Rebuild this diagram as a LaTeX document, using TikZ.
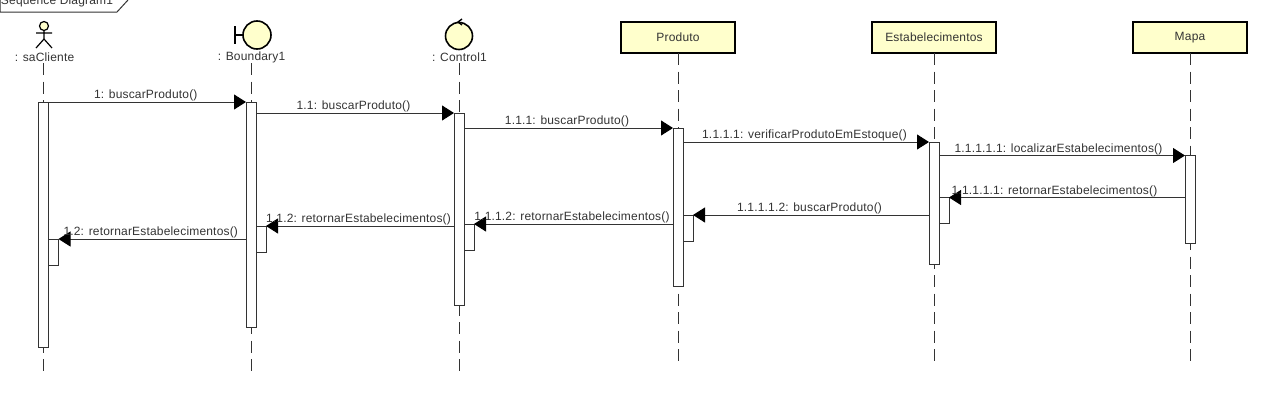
\documentclass[tikz,border=0pt]{standalone}
\usepackage{fontspec}
\setmainfont{Liberation Sans}[LetterSpace=1.5]
\usetikzlibrary{arrows.meta}
\definecolor{umlyellow}{HTML}{FFFFCC}
\definecolor{umlline}{HTML}{333333}

\begin{document}
\begin{tikzpicture}[%
x=1pt,y=-1pt,
>={Triangle[length=12pt,width=15pt,color=black]},
font=\fontsize{12}{14}\selectfont,
text=umlline,
every node/.style={inner sep=0pt,outer sep=0pt},
head/.style={rectangle,draw=black,line width=1.7pt,fill=umlyellow,minimum height=31,anchor=north},
icon/.style={circle,draw=black,line width=1.6pt,fill=umlyellow},
iconlab/.style={anchor=center},
life/.style={draw=umlline,line width=1pt,dash pattern=on 12pt off 6.5pt},
bar/.style={rectangle,draw=umlline,line width=1pt,fill=white,minimum width=10,anchor=north},
ret/.style={rectangle,draw=umlline,line width=1pt,minimum width=10,minimum height=26,anchor=north west},
msg/.style={draw=umlline,line width=1pt},
call/.style={msg,->},
lab/.style={above=1pt,xshift=-1.5pt,text height=9pt,text depth=2.5pt},
]
\useasboundingbox (0,0) rectangle (1280,413);

% frame tag
\node[anchor=west] (frametag) at (1,1.5) {Sequence Diagram1};
\draw[umlline,line width=1pt] (0,0) -- (0,12) -- (117,12) -- (128,0);

% actor
\node[icon,line width=1.2pt,minimum size=9] (actorhead) at (44,26) {};
\node[iconlab] (saCliente) at (44.5,57) {: saCliente};
\draw[black,line width=1.2pt] (actorhead.south) -- (44,39) -- (36,48) (44,39) -- (52,48) (36,33) -- (52,33);

% boundary
\node[icon,minimum size=28] (boundaryicon) at (257,35) {};
\node[iconlab] (Boundary) at (251.5,57) {: Boundary1};
\draw[black,line width=1.6pt] (235,26) -- (235,44) (235,35) -- (boundaryicon.west);

% control
\node[icon,minimum size=27] (controlicon) at (459,36) {};
\node[iconlab] (Control) at (459.5,57) {: Control1};
\draw[black,line width=1.4pt] (462,19) -- (458,22) -- (462,25);

% classes
\node[head,minimum width=114] (Produto) at (678,22) {Produto};
\node[head,minimum width=124] (Estabelecimentos) at (934,22) {Estabelecimentos};
\node[head,minimum width=114] (Mapa) at (1190,22) {Mapa};

% lifeline ends
\coordinate (endA) at (43.5,372);
\coordinate (endB) at (251,372);
\coordinate (endC) at (459,372);
\coordinate (endD) at (678,362);
\coordinate (endE) at (934,362);
\coordinate (endF) at (1190,362);

\draw[life] (43.5,63) -- (endA);
\draw[life] (251,63) -- (endB);
\draw[life] (459,63) -- (endC);
\draw[life] (Produto.south) -- (endD);
\draw[life] (Estabelecimentos.south) -- (endE);
\draw[life] (Mapa.south) -- (endF);

% activations
\node[bar,minimum height=245] (barA) at (43.5,102) {};
\node[bar,minimum height=225] (barB) at (251,102) {};
\node[bar,minimum height=192] (barC) at (459,113) {};
\node[bar,minimum height=158] (barD) at (678,128) {};
\node[bar,minimum height=122] (barE) at (934,142) {};
\node[bar,minimum height=88] (barF) at (1190,155.5) {};

% return boxes
\node[ret] (retA) at (barA.east |- 0,239) {};
\node[ret] (retB) at (barB.east |- 0,226) {};
\node[ret] (retC) at (barC.east |- 0,224) {};
\node[ret] (retD) at (barD.east |- 0,215) {};
\node[ret] (retE) at (barE.east |- 0,197.5) {};

% calls
\draw[call] (barA.north east) -- node[lab] (m1) {1: buscarProduto()} (barB.north west);
\draw[call] (barB.east |- barC.north) -- node[lab] (m2) {1.1: buscarProduto()} (barC.north west);
\draw[call] (barC.east |- barD.north) -- node[lab] (m3) {1.1.1: buscarProduto()} (barD.north west);
\draw[call] (barD.east |- barE.north) -- node[lab] (m4) {1.1.1.1: verificarProdutoEmEstoque()} (barE.north west);
\draw[call] (barE.east |- barF.north) -- node[lab,xshift=-2pt] (m5) {1.1.1.1.1: localizarEstabelecimentos()} (barF.north west);

% returns
\draw[call] (barF.west |- retE.north) -- node[lab,xshift=-11pt] (r1) {1.1.1.1.1: retornarEstabelecimentos()} (retE.north east);
\draw[call] (barE.west |- retD.north) -- node[lab] (r2) {1.1.1.1.2: buscarProduto()} (retD.north east);
\draw[call] (barD.west |- retC.north) -- node[lab] (r3) {1.1.1.2: retornarEstabelecimentos()} (retC.north east);
\draw[call] (barC.west |- retB.north) -- node[lab] (r4) {1.1.2: retornarEstabelecimentos()} (retB.north east);
\draw[call] (barB.west |- retA.north) -- node[lab] (r5) {1.2: retornarEstabelecimentos()} (retA.north east);
\end{tikzpicture}
\end{document}
